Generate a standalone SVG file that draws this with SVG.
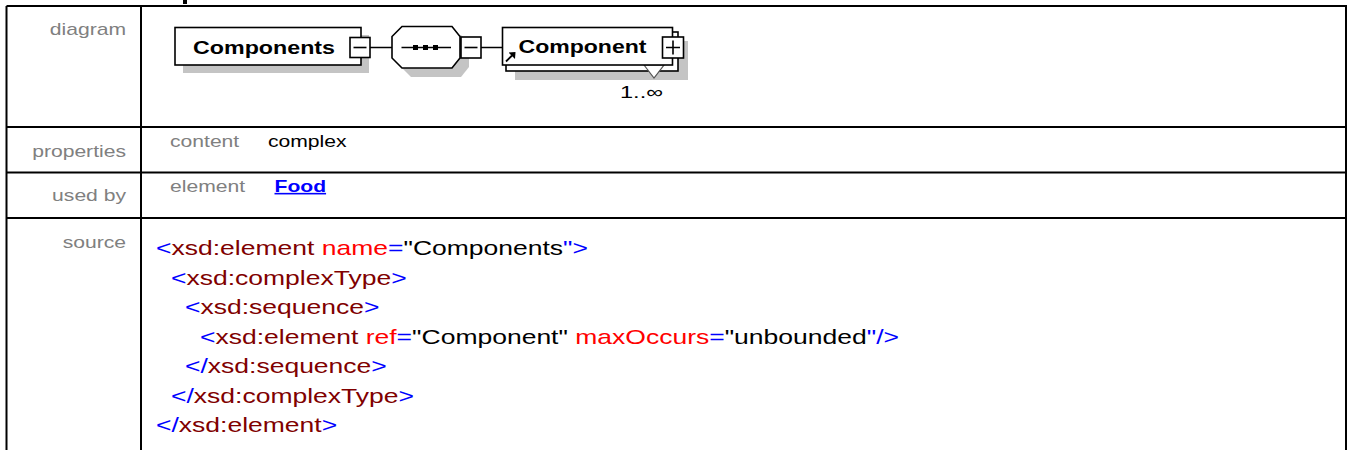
<svg xmlns="http://www.w3.org/2000/svg" width="1348" height="450" viewBox="0 0 1348 450">
<style>
.lbl{font-family:"Liberation Sans",Arial,sans-serif;font-size:16px;fill:#808080}
.val{font-family:"Liberation Sans",Arial,sans-serif;font-size:16px;fill:#000}
.src{font-family:"Liberation Sans",Arial,sans-serif;font-size:20px}
.b{fill:#0000ff}.e{fill:#800000}.a{fill:#ff0000}.k{fill:#000}
.grid{stroke:#000;stroke-width:2;fill:none}
.box{fill:#fff;stroke:#000;stroke-width:1.6}
.shadow{fill:#c4c4c4}
.dtext{font-family:"Liberation Sans",Arial,sans-serif;font-weight:bold;font-size:18px;fill:#000}
.conn{stroke:#000;stroke-width:1.6;fill:none}
</style>
<rect width="1348" height="450" fill="#fff"/>
<rect x="183" y="0" width="4" height="4" fill="#000"/>
<g id="table" class="grid">
<path d="M6.5,6H1346V451M6.5,6V451M141,6V451M6.5,127H1346M6.5,172.5H1346M6.5,218H1346"/>
</g>
<g id="labels">
<text class="lbl" text-anchor="end" transform="translate(126,35) scale(1.32,1)">diagram</text>
<text class="lbl" text-anchor="end" transform="translate(126,157) scale(1.32,1)">properties</text>
<text class="lbl" text-anchor="end" transform="translate(126,201) scale(1.32,1)">used by</text>
<text class="lbl" text-anchor="end" transform="translate(126,248) scale(1.32,1)">source</text>
</g>
<g id="properties">
<text class="lbl" transform="translate(170,147) scale(1.32,1)">content</text>
<text class="val" transform="translate(268,147) scale(1.32,1)">complex</text>
</g>
<g id="usedby">
<text class="lbl" transform="translate(170,192) scale(1.32,1)">element</text>
<text class="val" transform="translate(274.5,192) scale(1.32,1)" style="fill:#0000ff;font-weight:bold;text-decoration:underline">Food</text>
</g>
<g id="source" class="src">
<text transform="translate(156,255) scale(1.325,1)"><tspan class="b">&lt;</tspan><tspan class="e">xsd:element</tspan> <tspan class="a">name</tspan><tspan class="b">=</tspan><tspan class="k">"Components</tspan><tspan class="b">"&gt;</tspan></text>
<text transform="translate(171,284.5) scale(1.325,1)"><tspan class="b">&lt;</tspan><tspan class="e">xsd:complexType</tspan><tspan class="b">&gt;</tspan></text>
<text transform="translate(185,314) scale(1.325,1)"><tspan class="b">&lt;</tspan><tspan class="e">xsd:sequence</tspan><tspan class="b">&gt;</tspan></text>
<text transform="translate(200,343.5) scale(1.325,1)"><tspan class="b">&lt;</tspan><tspan class="e">xsd:element</tspan> <tspan class="a">ref</tspan><tspan class="b">=</tspan><tspan class="k">"Component"</tspan> <tspan class="a">maxOccurs</tspan><tspan class="b">=</tspan><tspan class="k">"unbounded</tspan><tspan class="b">"/&gt;</tspan></text>
<text transform="translate(185,373) scale(1.325,1)"><tspan class="b">&lt;/</tspan><tspan class="e">xsd:sequence</tspan><tspan class="b">&gt;</tspan></text>
<text transform="translate(171,402.5) scale(1.325,1)"><tspan class="b">&lt;/</tspan><tspan class="e">xsd:complexType</tspan><tspan class="b">&gt;</tspan></text>
<text transform="translate(156,432) scale(1.325,1)"><tspan class="b">&lt;/</tspan><tspan class="e">xsd:element</tspan><tspan class="b">&gt;</tspan></text>
</g>
<g id="connectors" class="conn">
<path d="M370,47.5H392M481,47.5H502.5"/>
</g>
<g id="node-components">
<rect class="shadow" x="183" y="35" width="186" height="38"/>
<rect class="box" x="175" y="27.5" width="186" height="37.5"/>
<text class="dtext" x="193" y="53.5" textLength="142" lengthAdjust="spacingAndGlyphs">Components</text>
<rect class="box" x="350" y="37.5" width="20" height="20"/>
<path class="conn" d="M353.5,47.5H366.5"/>
</g>
<g id="node-sequence">
<polygon class="shadow" points="411,35 461,35 469,43 469,67 461,77 411,77 401,67 401,45"/>
<polygon class="box" points="402,26.5 452,26.5 460,36.5 460,58 452,68 402,68 392,58 392,36.5"/>
<path class="conn" d="M401.5,47.5H451"/>
<rect x="413" y="45" width="5" height="5" fill="#000"/>
<rect x="423" y="45" width="5" height="5" fill="#000"/>
<rect x="433" y="45" width="5" height="5" fill="#000"/>
<rect class="box" x="461" y="37" width="20" height="21"/>
<path class="conn" d="M464.5,47.5H477.5"/>
</g>
<g id="node-component">
<rect class="shadow" x="515" y="41" width="173" height="39"/>
<rect class="box" x="506" y="32" width="172" height="39"/>
<polygon points="644,65 654,78 664,65" fill="#fff" stroke="#555" stroke-width="1.2"/>
<rect class="box" x="502.5" y="27.5" width="170" height="37.5"/>
<text class="dtext" x="518.5" y="52.5" textLength="128" lengthAdjust="spacingAndGlyphs">Component</text>
<path d="M506,61.5L512,55.5" stroke="#000" stroke-width="1.8"/>
<polygon points="515.5,52 508.5,52.5 515,59" fill="#000"/>
<rect class="box" x="662.5" y="37" width="21" height="21"/>
<path class="conn" d="M666,47.5H680M673,40.5V54.5"/>
<text x="620" y="98" font-family="'Liberation Sans',Arial,sans-serif" font-size="17" fill="#000" textLength="43" lengthAdjust="spacingAndGlyphs">1..∞</text>
</g>
</svg>
